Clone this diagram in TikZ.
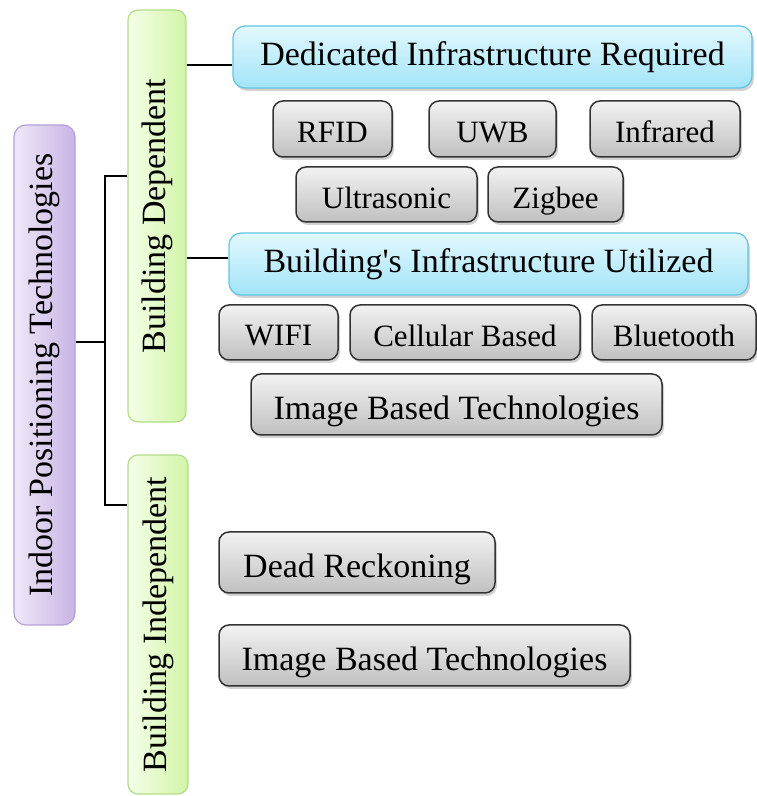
\documentclass[tikz,border=0pt]{standalone}
\usepackage{fontspec}
\setmainfont{Liberation Serif}[Ligatures=TeXOff]
\usetikzlibrary{shadows}
\definecolor{purL}{HTML}{EFE8F8}
\definecolor{purR}{HTML}{C8B4E4}
\definecolor{purB}{HTML}{B4A0D8}
\definecolor{grnL}{HTML}{F4FFE8}
\definecolor{grnR}{HTML}{D2F5A8}
\definecolor{grnB}{HTML}{B4DC88}
\definecolor{bluT}{HTML}{E2F8FE}
\definecolor{bluB}{HTML}{A2E4F8}
\definecolor{bluE}{HTML}{60C4E4}
\definecolor{gryT}{HTML}{F2F2F2}
\definecolor{gryB}{HTML}{C0C0C0}
\definecolor{gryE}{HTML}{333333}
\tikzset{
  x=1pt, y=1pt,
  bigtext/.style={font=\fontsize{34}{38}\selectfont},
  smalltext/.style={font=\fontsize{31}{35}\selectfont},
  purplebox/.style={draw=purB, line width=1.2pt, rounded corners=12pt, left color=purL, right color=purR, inner sep=0pt, bigtext, rotate=90},
  greenbox/.style={draw=grnB, line width=1.2pt, rounded corners=10pt, left color=grnL, right color=grnR, inner sep=0pt, bigtext, rotate=90},
  bluebox/.style={draw=bluE, line width=1.2pt, rounded corners=12pt, top color=bluT, bottom color=bluB, inner sep=0pt, bigtext,
    drop shadow={shadow xshift=2pt, shadow yshift=-3pt, opacity=0.35, fill=gray}},
  greybox/.style={draw=gryE, line width=1.5pt, rounded corners=10pt, top color=gryT, bottom color=gryB, inner sep=0pt, text depth=0pt,
    drop shadow={shadow xshift=2pt, shadow yshift=-3pt, opacity=0.35, fill=gray}},
  conn/.style={draw=black, line width=1.3pt},
}
\begin{document}
\begin{tikzpicture}
\useasboundingbox (0,0) rectangle (757,796);
% main categories
\node[purplebox, minimum width=500, minimum height=61] (ipt) at (44.5,421) {Indoor Positioning Technologies};
\node[greenbox, minimum width=412, minimum height=58] (bd) at (157,580) {Building Dependent};
\node[greenbox, minimum width=339, minimum height=60] (bi) at (158,171.5) {Building Independent};
% blue headers
\node[bluebox, minimum width=519, minimum height=62] (dir) at (492.5,739) {Dedicated Infrastructure Required};
\node[bluebox, minimum width=519, minimum height=62] (biu) at (488.5,532) {Building's Infrastructure Utilized};
% grey boxes
\node[greybox, smalltext, minimum width=119, minimum height=56] (rfid) at (332.5,667) {\raisebox{-6pt}{RFID}};
\node[greybox, smalltext, minimum width=127, minimum height=56] (uwb) at (492.5,667) {\raisebox{-6pt}{UWB}};
\node[greybox, smalltext, minimum width=150, minimum height=56] (ir) at (665,667) {\raisebox{-6pt}{Infrared}};
\node[greybox, smalltext, minimum width=181, minimum height=55] (us) at (386.5,601.5) {\raisebox{-6pt}{Ultrasonic}};
\node[greybox, smalltext, minimum width=135, minimum height=55] (zb) at (555.5,601.5) {\raisebox{-6pt}{Zigbee}};
\node[greybox, smalltext, minimum width=119, minimum height=55] (wifi) at (278.5,463.5) {\raisebox{-6pt}{WIFI}};
\node[greybox, smalltext, minimum width=230, minimum height=55] (cell) at (465,463.5) {\raisebox{-6pt}{Cellular Based}};
\node[greybox, smalltext, minimum width=164, minimum height=55] (bt) at (674,463.5) {\raisebox{-6pt}{Bluetooth}};
\node[greybox, bigtext, minimum width=411, minimum height=61] (ibt1) at (456.5,391.5) {\raisebox{-7pt}{Image Based Technologies}};
\node[greybox, bigtext, minimum width=276, minimum height=61] (dr) at (357,233.5) {\raisebox{-7pt}{Dead Reckoning}};
\node[greybox, bigtext, minimum width=411, minimum height=61] (ibt2) at (424.5,140.5) {\raisebox{-7pt}{Image Based Technologies}};
% connectors
\coordinate (jm) at (105,454);
\coordinate (jt) at (105,620);
\coordinate (jb) at (105,291);
\draw[conn] (ipt.south |- jm) -- (jm);
\draw[conn] (bd.north |- jt) -- (jt) -- (jb) -- (bi.north |- jb);
\coordinate (k1) at (200,731);
\coordinate (k2) at (200,538);
\draw[conn] (bd.south |- k1) -- (dir.west |- k1);
\draw[conn] (bd.south |- k2) -- (biu.west |- k2);
\end{tikzpicture}
\end{document}
